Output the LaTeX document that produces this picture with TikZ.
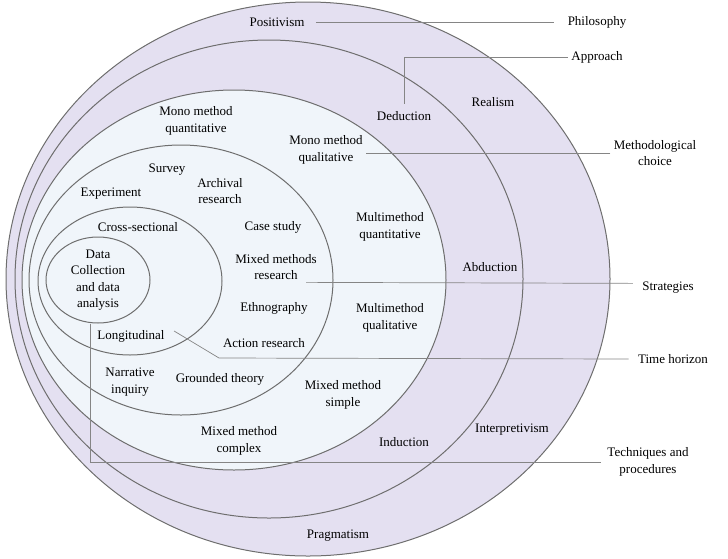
\documentclass[tikz,border=0pt]{standalone}
\usepackage{fontspec}
\setmainfont{Liberation Serif}
\usetikzlibrary{shapes.geometric}
\definecolor{lav}{HTML}{E4E0F1}
\definecolor{pale}{HTML}{F0F5FA}
\definecolor{rim}{HTML}{6E6E6E}
\definecolor{lead}{HTML}{858585}

\begin{document}
\begin{tikzpicture}
[x=1pt,y=-1pt,
ring/.style={ellipse,draw=rim,line width=1pt,inner sep=0pt},
lbl/.style={font=\fontsize{13}{16.5}\selectfont,align=center,text=black},
tie/.style={draw=lead,line width=0.7pt}]
\useasboundingbox (0,0) rectangle (728,558);

% the layers, outside in
\node[ring,fill=lav,minimum width=604pt,minimum height=554pt] (o1) at (308,279) {};
\node[ring,fill=lav,minimum width=508pt,minimum height=478pt] (o2) at (269,279) {};
\node[ring,fill=pale,minimum width=424pt,minimum height=380pt] (o3) at (234,280) {};
\node[ring,fill=pale,minimum width=304pt,minimum height=270pt] (o4) at (181,280) {};
\node[ring,fill=pale,minimum width=184pt,minimum height=148pt] (o5) at (130,281) {};
\node[ring,fill=pale,minimum width=104pt,minimum height=86pt] (o6) at (98,280) {};

% labels inside
\node[lbl] (pos) at (277,22) {Positivism};
\node[lbl] (rea) at (493,102) {Realism};
\node[lbl] (ded) at (404,116) {Deduction};
\node[lbl] (mmqn) at (196,121) {Mono method\\quantitative};
\node[lbl] (mmql) at (326,150) {Mono method\\qualitative};
\node[lbl] (sur) at (167,170) {Survey};
\node[lbl] (arc) at (220,191) {Archival\\research};
\node[lbl] (exp) at (111,194) {Experiment};
\node[lbl] (cro) at (138,227) {Cross-sectional};
\node[lbl] (cas) at (273,227) {Case study};
\node[lbl] (mtqn) at (390,227) {Multimethod\\quantitative};
\node[lbl] (dat) at (98,280) {Data\\Collection\\and data\\analysis};
\node[lbl] (mmr) at (276,267) {Mixed methods\\research};
\node[lbl] (abd) at (490,267) {Abduction};
\node[lbl] (eth) at (274,308) {Ethnography};
\node[lbl] (mtql) at (390,318) {Multimethod\\qualitative};
\node[lbl] (lon) at (131,336) {Longitudinal};
\node[lbl] (act) at (264,343) {Action research};
\node[lbl] (nar) at (130,382) {Narrative\\inquiry};
\node[lbl] (gro) at (220,379) {Grounded theory};
\node[lbl] (mms) at (343,395) {Mixed method\\simple};
\node[lbl] (mmc) at (239,441) {Mixed method\\complex};
\node[lbl] (ind) at (404,442) {Induction};
\node[lbl] (int) at (512,430) {Interpretivism};
\node[lbl] (pra) at (338,536) {Pragmatism};

% labels outside
\node[lbl] (phi) at (597,22) {Philosophy};
\node[lbl] (app) at (597,57) {Approach};
\node[lbl] (mch) at (655,153) {Methodological\\choice};
\node[lbl] (str) at (668,288) {Strategies};
\node[lbl] (thz) at (673,359) {Time horizon};
\node[lbl] (tec) at (648,462) {Techniques and\\procedures};

\coordinate (thb) at (219,358);

\draw [tie] ([xshift=8pt]pos.east) -- ([xshift=-10pt]phi.west);
\draw [tie] (app.west) -| ([yshift=4pt]ded.north);
\draw [tie] (mch.west) -- (mch.west -| mmql.east);
\draw [tie] ([xshift=-14pt,yshift=1pt]mmr.south east) -- ([xshift=-6pt]str.west |- mmr.south east);
\draw [tie] ([xshift=6pt,yshift=5pt]lon.east) -- (thb) -- ([xshift=-6pt]thz.west);
\draw [tie] ([xshift=-8pt]o6.south) |- ([xshift=-3pt]tec.west);
\end{tikzpicture}
\end{document}
